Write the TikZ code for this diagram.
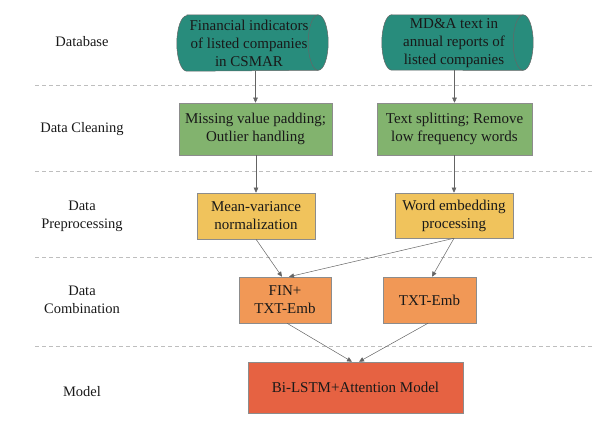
\documentclass[tikz,border=0pt]{standalone}
\usepackage{fontspec}
\setmainfont{Liberation Serif}
\usetikzlibrary{arrows.meta,shadows}
\definecolor{cteal}{RGB}{40,140,124}
\definecolor{cgreen}{RGB}{130,179,110}
\definecolor{cyellow}{RGB}{240,195,92}
\definecolor{corange}{RGB}{241,152,86}
\definecolor{cred}{RGB}{230,98,66}
\definecolor{cline}{RGB}{100,100,100}
\definecolor{cdash}{RGB}{190,190,190}
\tikzset{
  every node/.style={font=\fontsize{15}{18}\selectfont, align=center, text=black!90},
  stagelabel/.style={font=\fontsize{14.5}{18}\selectfont},
  procbox/.style={draw=black!45, line width=0.5pt, drop shadow={shadow xshift=1.2pt, shadow yshift=-1.2pt, opacity=0.35}},
  cylbody/.style={draw=black!60, line width=0.5pt, fill=cteal},
  link/.style={draw=cline, line width=0.5pt, -{Triangle[length=5pt,width=4.5pt]}},
  sep/.style={draw=cdash, line width=0.8pt, dash pattern=on 4pt off 3pt},
}
\begin{document}
\begin{tikzpicture}[x=1pt,y=-1pt]
\useasboundingbox (0,0) rectangle (594,435);
% separators
\draw[sep] (35,85) -- (594,85);
\draw[sep] (35,171) -- (594,171);
\draw[sep] (35,257) -- (594,257);
\draw[sep] (35,346) -- (594,346);
% stage labels
\node[stagelabel] (l1) at (82,42) {Database};
\node[stagelabel] (l2) at (82,129) {Data Cleaning};
\node[stagelabel] (l3) at (82,216) {Data\\Preprocessing};
\node[stagelabel] (l4) at (82,300) {Data\\Combination};
\node[stagelabel] (l5) at (82,392) {Model};
% cylinders (outline drawn around named nodes)
\node[minimum width=151pt, minimum height=56pt, inner sep=0pt] (c1) at (252.5,43) {};
\node[minimum width=151pt, minimum height=55pt, inner sep=0pt] (c2) at (457.5,42.5) {};
\foreach \c in {c1,c2}{
  \draw[cylbody] ([xshift=10pt]\c.north west) -- ([xshift=-10pt]\c.north east)
     arc[start angle=-90, end angle=90, x radius=10, y radius=27.75]
     -- ([xshift=10pt]\c.south west)
     arc[start angle=90, end angle=270, x radius=10, y radius=27.75] -- cycle;
  \draw[draw=black!60, line width=0.5pt] ([xshift=-10pt]\c.north east)
     arc[start angle=270, end angle=90, x radius=10, y radius=27.75];
}
\node at (249,43) {Financial indicators\\of listed companies\\in CSMAR};
\node at (454,43) {MD\&A text in\\annual reports of\\listed companies};
% cleaning
\node[procbox, fill=cgreen, minimum width=153pt, minimum height=52pt] (g1) at (255.5,129) {Missing value padding;\\Outlier handling};
\node[procbox, fill=cgreen, minimum width=155pt, minimum height=52pt] (g2) at (454.5,129) {Text splitting; Remove\\low frequency words};
% preprocessing
\node[procbox, fill=cyellow, minimum width=118pt, minimum height=46pt] (y1) at (256,216) {Mean-variance\\normalization};
\node[procbox, fill=cyellow, minimum width=118pt, minimum height=45pt] (y2) at (454,215.5) {Word embedding\\processing};
% combination
\node[procbox, fill=corange, minimum width=92pt, minimum height=46pt] (o1) at (285,300) {FIN+\\TXT-Emb};
\node[procbox, fill=corange, minimum width=93pt, minimum height=46pt] (o2) at (429.5,300) {TXT-Emb};
% model
\node[procbox, fill=cred, minimum width=215pt, minimum height=51pt] (m) at (355.5,387.5) {Bi-LSTM+Attention Model};
% connectors
\draw[link] (c1.south -| g1.north) -- (g1.north);
\draw[link] (c2.south -| g2.north) -- (g2.north);
\draw[link] (g1.south -| y1.north) -- (y1.north);
\draw[link] (g2.south -| y2.north) -- (y2.north);
\draw[link] (y1.south) -- ([xshift=-3pt]o1.north);
\draw[link] (y2.south) -- ([xshift=4pt]o1.north);
\draw[link] (y2.south) -- ([xshift=2.5pt]o2.north);
\draw[link] ([xshift=2pt]o1.south) -- ([xshift=-3.5pt]m.north);
\draw[link] ([xshift=-1.5pt]o2.south) -- ([xshift=3.5pt]m.north);
\end{tikzpicture}
\end{document}
